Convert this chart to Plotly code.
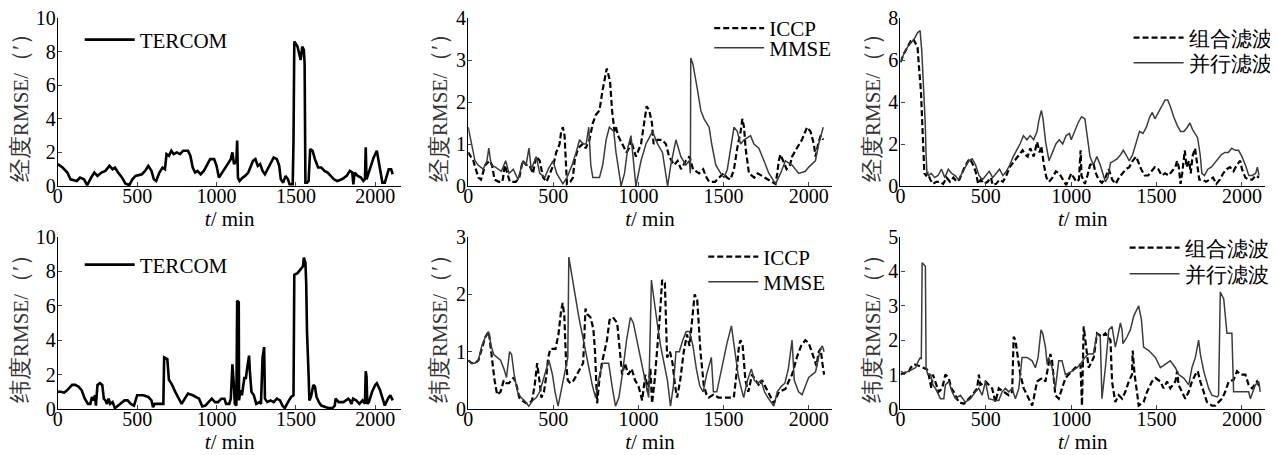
# RMSE curves: TERCOM / ICCP vs MMSE / combined vs parallel filtering
import plotly.graph_objects as go

# ---- top row: longitude RMSE ----
lon_tercom_t = [0, 30, 60, 80, 120, 140, 165, 185, 210, 230, 250, 275, 300, 325, 345, 360, 380, 405, 425, 450,
                470, 490, 530, 550, 570, 590, 605, 620, 640, 660, 675, 685, 700, 715, 730, 750, 770, 790, 820, 835,
                850, 865, 880, 900, 920, 940, 960, 985, 1000, 1015, 1035, 1050, 1070, 1090, 1100, 1110, 1125, 1130,
                1135, 1145, 1165, 1180, 1200, 1215, 1230, 1245, 1260, 1275, 1290, 1305, 1320, 1340, 1360, 1380, 1395,
                1405, 1420, 1435, 1450, 1460, 1480, 1485, 1490, 1510, 1520, 1530, 1540, 1550, 1555, 1560, 1570, 1580,
                1590, 1605, 1620, 1640, 1660, 1680, 1700, 1720, 1740, 1760, 1790, 1820, 1840, 1855, 1862, 1870, 1890,
                1910, 1925, 1935, 1940, 1945, 1955, 1970, 1990, 2010, 2025, 2040, 2045, 2060, 2070, 2085, 2100, 2110]
lon_tercom_v = [1.3, 1.1, 0.8, 0.4, 0.3, 0.5, 0.4, 0.05, 0.5, 0.8, 0.6, 0.8, 0.9, 1.2, 1.0, 1.1, 0.8, 0.5, 0.15, 0.05,
                0.4, 0.6, 0.7, 0.9, 1.2, 0.9, 0.4, 0.3, 0.8, 1.1, 1.0, 1.9, 1.8, 2.1, 1.9, 2.0, 1.9, 2.1, 2.1, 1.8,
                1.1, 0.8, 0.9, 0.7, 0.9, 1.3, 1.6, 1.6, 1.2, 0.5, 0.8, 1.0, 1.3, 1.6, 2.0, 1.3, 1.5, 2.7,
                0.5, 0.3, 0.5, 0.6, 0.8, 1.2, 1.5, 1.6, 1.2, 1.3, 0.9, 0.7, 1.0, 1.4, 1.7, 1.6, 1.2,
                0.4, 0.2, 0.6, 0.4, 0.1, 0.1, 2.7, 8.6, 8.3, 7.8, 7.5, 8.3, 8.1, 7.3, 0.2, 0.2, 0.3,
                2.2, 2.1, 1.6, 1.1, 1.1, 0.9, 0.8, 0.6, 0.4, 0.3, 0.4, 0.6, 0.9, 0.8, 0.1, 0.8, 0.6,
                0.5, 0.3, 0.4, 2.3, 0.4, 0.7, 1.2, 1.7, 2.1, 1.3, 0.6, 0.2, 0.2, 0.5, 1.0, 1.0, 0.7]

lon_iccp_t = [0, 30, 60, 75, 100, 127, 140, 155, 180, 200, 205, 215, 230, 245, 280, 300, 320, 340, 360, 380, 400,
              420, 440, 460, 480, 500, 517, 537, 546, 556, 566, 572, 580, 600, 615, 625, 645, 673, 690, 712, 732,
              751, 771, 790, 806, 814, 833, 845, 859, 868, 880, 907, 930, 945, 956, 970, 985, 1015, 1034, 1048,
              1063, 1079, 1089, 1112, 1140, 1161, 1180, 1210, 1230, 1250, 1278, 1300, 1320, 1356, 1380, 1400,
              1415, 1450, 1473, 1500, 1520, 1540, 1561, 1580, 1600, 1610, 1620, 1629, 1649, 1680, 1700, 1720,
              1740, 1780, 1805, 1815, 1824, 1834, 1850, 1870, 1890, 1902, 1930, 1960, 1990, 2010, 2030, 2040,
              2055, 2070, 2085]
lon_iccp_v = [0.8, 0.6, 0.2, 0.15, 0.5, 0.6, 0.5, 0.15, 0.1, 0.1, 0.2, 0.5, 0.3, 0.1, 0.1, 0.2, 0.6, 0.5, 0.5, 0.3, 0.7,
              0.6, 0.2, 0.1, 0.3, 0.5, 0.8, 1.0, 1.3, 1.4, 1.2, 0.5, 0.05, 0.1, 0.2, 0.6, 0.9, 1.0, 0.9, 1.1, 1.5,
              1.7, 1.8, 2.3, 2.7, 2.8, 2.5, 1.8, 1.3, 1.4, 1.2, 1.0, 0.8, 0.9, 1.1, 0.9, 0.7, 1.0, 1.5, 1.9,
              1.8, 1.5, 1.0, 1.1, 1.1, 1.0, 0.7, 0.5, 0.6, 0.4, 0.6, 0.7, 0.4, 0.3, 0.4, 0.2,
              0.1, 0.1, 0.2, 0.3, 0.2, 0.15, 0.4, 0.9, 1.3, 1.6, 1.4, 0.9, 0.3, 0.2, 0.3, 0.25,
              0.2, 0.1, 0.05, 0.3, 0.6, 0.75, 0.6, 0.4, 0.5, 0.7, 0.9, 1.1, 1.4, 1.3, 1.0, 0.7,
              1.0, 1.2, 1.1]

lon_mmse_t = [0, 15, 40, 58, 88, 110, 121, 135, 160, 195, 210, 220, 240, 265, 293, 322, 340, 357, 370, 400, 420, 450,
              470, 498, 520, 545, 556, 580, 610, 634, 654, 675, 693, 708, 720, 732, 771, 790, 810, 829, 855, 868,
              885, 898, 918, 937, 956, 970, 985, 1015, 1044, 1083, 1112, 1141, 1160, 1171, 1190, 1220, 1249, 1278,
              1298, 1305, 1307, 1320, 1346, 1366, 1385, 1415, 1430, 1454, 1483, 1502, 1522, 1541, 1561, 1580, 1600,
              1620, 1658, 1678, 1707, 1737, 1766, 1805, 1834, 1863, 1902, 1941, 1980, 2000, 2039, 2058, 2085]
lon_mmse_v = [1.4, 1.1, 0.6, 0.5, 0.4, 0.6, 0.9, 0.5, 0.45, 0.35, 0.5, 0.6, 0.3, 0.4, 0.15, 0.6, 0.5, 0.9, 0.4, 0.7, 0.3, 0.2,
              0.4, 0.6, 0.3, 0.1, 0.05, 0.2, 0.5, 0.8, 1.1, 1.0, 1.0, 1.4, 0.5, 0.2, 0.2, 0.5, 1.1, 1.4, 1.3, 0.8,
              0.3, 0.0, 0.3, 0.9, 1.2, 0.6, 0.0, 0.6, 1.0, 1.3, 1.0, 0.8, 0.3, 0.0, 0.5, 1.1, 0.7, 0.5,
              0.6, 0.3, 3.05, 2.9, 2.3, 1.8, 1.6, 1.4, 1.0, 0.5, 0.3, 0.2, 0.4, 0.9, 1.4, 1.3, 1.0,
              1.1, 1.2, 1.0, 0.9, 0.6, 0.3, 0.05, 0.3, 0.6, 0.5, 0.3, 0.35, 0.45, 0.6, 1.0, 1.4]

lon_comb_t = [0, 20, 40, 60, 75, 90, 100, 110, 120, 130, 135, 140, 150, 160, 175, 190, 210, 230, 250, 270, 290, 310,
              330, 345, 360, 375, 390, 405, 420, 440, 455, 470, 490, 510, 530, 540, 560, 580, 600, 620, 640, 660,
              680, 700, 715, 730, 745, 760, 780, 800, 815, 825, 840, 855, 870, 890, 910, 930, 950, 970, 990, 1000,
              1015, 1030, 1045, 1055, 1060, 1070, 1080, 1095, 1110, 1130, 1140, 1160, 1180, 1200, 1220, 1240, 1260,
              1280, 1300, 1320, 1340, 1360, 1380, 1390, 1410, 1430, 1450, 1470, 1490, 1510, 1530, 1550, 1570, 1590,
              1610, 1620, 1630, 1640, 1650, 1665, 1675, 1690, 1700, 1710, 1725, 1735, 1750, 1770, 1790, 1810, 1830,
              1850, 1870, 1890, 1910, 1930, 1950, 1970, 1990, 2000, 2020, 2040, 2060, 2080, 2100]
lon_comb_v = [5.9, 6.3, 6.6, 6.9, 7.0, 6.8, 6.6, 5.5, 4.5, 2.5, 1.0, 0.6, 0.5, 0.6, 0.3, 0.1, 0.2, 0.2, 0.1, 0.4, 0.2, 0.4,
              0.2, 0.3, 0.6, 0.9, 1.1, 1.3, 1.1, 0.7, 0.1, 0.3, 0.1, 0.2, 0.4, 0.05, 0.1, 0.3, 0.2, 0.5, 0.9, 1.1,
              1.3, 1.5, 1.7, 1.5, 1.4, 1.8, 1.4, 2.1, 1.6, 1.9, 1.0, 0.4, 0.2, 0.4, 0.7, 0.6, 0.3, 0.05, 0.4, 0.6,
              0.4, 0.2, 0.3, 1.7, 0.5, 0.3, 0.1, 0.5, 1.0, 1.1, 0.7, 0.3, 0.15, 0.4, 0.8, 0.3, 0.1,
              0.4, 0.6, 0.8, 0.9, 1.2, 1.4, 1.2, 0.8, 0.5, 0.5, 0.7, 0.9, 0.8, 0.5, 0.6, 0.5, 0.7,
              0.9, 1.2, 0.9, 0.1, 0.6, 1.7, 0.9, 1.2, 0.6, 1.4, 1.8, 1.2, 0.3, 0.3, 0.2, 0.3, 0.4,
              0.1, 0.3, 0.6, 0.8, 0.9, 0.7, 1.0, 1.2, 0.8, 0.4, 0.3, 0.3, 0.5, 0.4]

lon_par_t = [0, 20, 40, 60, 80, 100, 115, 125, 135, 145, 150, 155, 165, 180, 200, 220, 240, 260, 280, 300, 320, 340,
             360, 380, 400, 420, 440, 460, 480, 500, 520, 540, 560, 580, 600, 620, 640, 660, 680, 700, 720, 740, 760,
             780, 800, 810, 825, 835, 850, 870, 890, 910, 930, 950, 970, 990, 1000, 1020, 1040, 1060, 1080, 1090,
             1110, 1130, 1150, 1170, 1190, 1200, 1215, 1230, 1250, 1270, 1290, 1305, 1320, 1340, 1360, 1380, 1400,
             1420, 1440, 1460, 1475, 1490, 1510, 1530, 1550, 1565, 1580, 1600, 1620, 1640, 1660, 1680, 1695, 1710,
             1725, 1740, 1755, 1765, 1780, 1800, 1820, 1840, 1860, 1880, 1900, 1920, 1940, 1960, 1980, 2000, 2020,
             2040, 2060, 2080, 2090, 2100]
lon_par_v = [5.9, 6.3, 6.6, 6.8, 7.0, 7.3, 7.4, 6.4, 5.0, 3.0, 1.5, 0.6, 0.5, 0.6, 0.4, 0.5, 0.8, 0.4, 0.8, 0.6, 0.5, 0.3,
             0.6, 0.9, 1.2, 1.3, 1.0, 0.5, 0.3, 0.5, 0.7, 0.4, 0.6, 0.8, 0.5, 0.7, 1.0, 1.4, 1.7, 2.0, 2.4, 2.2, 2.4,
             2.2, 2.6, 3.1, 3.6, 3.2, 2.1, 1.2, 1.6, 2.0, 2.2, 2.0, 2.4, 2.5, 2.2, 2.6, 3.0, 3.3, 3.2, 2.6,
             1.4, 1.0, 1.4, 1.0, 0.4, 0.2, 0.4, 1.1, 1.2, 1.3, 1.5, 1.7, 1.5, 1.2, 1.5, 2.1, 2.6,
             2.5, 2.8, 3.3, 3.5, 3.2, 3.5, 3.8, 4.1, 4.1, 3.8, 3.3, 2.9, 2.6, 2.6, 2.8, 3.0, 2.7,
             2.5, 2.3, 1.5, 0.6, 0.5, 0.8, 0.9, 1.1, 1.3, 1.5, 1.6, 1.6, 1.8, 1.7, 1.7, 1.4, 1.0,
             0.5, 0.5, 0.6, 0.9, 0.5]

# ---- bottom row: latitude RMSE ----
lat_tercom_t = [0, 20, 40, 60, 90, 110, 130, 150, 170, 190, 205, 215, 225, 235, 240, 250, 265, 280, 290, 300, 310, 320,
                330, 345, 360, 380, 400, 420, 440, 460, 480, 500, 540, 570, 590, 600, 610, 640, 665, 670, 690, 700,
                720, 740, 760, 780, 800, 820, 850, 870, 890, 910, 930, 950, 970, 990, 1010, 1030, 1050, 1060, 1080,
                1090, 1100, 1110, 1115, 1125, 1130, 1140, 1142, 1150, 1160, 1175, 1185, 1195, 1205, 1210, 1220, 1235,
                1250, 1270, 1280, 1290, 1300, 1305, 1320, 1340, 1360, 1380, 1400, 1415, 1430, 1450, 1470, 1485, 1490,
                1510, 1530, 1545, 1550, 1560, 1565, 1570, 1580, 1585, 1595, 1610, 1620, 1630, 1645, 1660, 1690, 1710,
                1730, 1745, 1750, 1770, 1800, 1830, 1840, 1850, 1860, 1880, 1900, 1920, 1935, 1940, 1945, 1950, 1960,
                1980, 2000, 2010, 2030, 2050, 2060, 2080, 2095, 2110]
lat_tercom_v = [1.0, 1.0, 0.95, 1.1, 1.4, 1.4, 1.3, 1.1, 0.6, 0.3, 0.3, 0.7, 0.5, 0.8, 0.2, 1.4, 1.5, 1.4, 0.6, 0.5, 0.3, 0.6,
                0.3, 0.4, 0.05, 0.2, 0.4, 0.5, 0.5, 0.3, 0.2, 0.8, 0.8, 0.7, 0.5, 0.1, 0.3, 0.3, 0.3, 3.0, 2.9, 1.7,
                1.4, 1.0, 0.6, 0.3, 0.6, 0.9, 0.8, 0.7, 0.6, 0.15, 0.2, 0.4, 0.6, 0.4, 0.4, 0.6, 0.6, 0.3, 0.3,
                0.6, 2.6, 1.3, 0.3, 0.2, 6.3, 6.2, 0.5, 1.1, 0.8, 1.8, 1.8, 2.5, 3.1, 2.2, 1.0, 0.8,
                0.3, 0.4, 0.3, 3.0, 3.6, 0.6, 0.4, 0.5, 0.4, 0.6, 0.5, 0.2, 0.05, 0.4, 0.7, 0.8, 7.8,
                7.9, 8.1, 8.3, 8.8, 8.5, 7.3, 4.5, 2.0, 0.5, 0.7, 1.4, 1.3, 0.7, 0.4, 0.2, 0.1, 0.05,
                0.05, 0.2, 0.6, 0.4, 0.4, 0.6, 0.5, 0.3, 0.6, 0.5, 0.3, 0.5, 0.3, 2.2, 1.9, 0.3, 0.4,
                1.0, 1.4, 1.5, 1.1, 0.5, 0.2, 0.6, 0.8, 0.5]

lat_iccp_t = [0, 20, 40, 60, 80, 100, 121, 140, 155, 170, 190, 209, 225, 239, 255, 268, 285, 300, 317, 340, 360, 375,
              390, 405, 418, 430, 445, 460, 470, 483, 513, 530, 545, 555, 565, 575, 585, 600, 620, 640, 660, 675,
              689, 700, 718, 735, 745, 757, 770, 785, 800, 815, 830, 850, 875, 890, 904, 920, 940, 960, 980, 1000,
              1022, 1040, 1055, 1070, 1080, 1095, 1110, 1125, 1139, 1155, 1168, 1185, 1200, 1215, 1227, 1245, 1266,
              1285, 1300, 1315, 1330, 1345, 1364, 1384, 1400, 1413, 1440, 1470, 1500, 1530, 1560, 1575, 1590, 1599,
              1612, 1628, 1645, 1667, 1690, 1710, 1726, 1760, 1795, 1825, 1863, 1885, 1902, 1930, 1955, 1980, 2000,
              2029, 2045, 2059, 2070, 2080, 2090]
lat_iccp_v = [0.85, 0.8, 0.8, 0.85, 1.05, 1.25, 1.35, 0.9, 0.5, 0.25, 0.3, 0.5, 0.45, 0.45, 0.5, 0.55, 0.4, 0.2, 0.15, 0.1, 0.1, 0.15,
              0.4, 0.8, 0.5, 0.2, 0.3, 0.6, 0.9, 1.05, 1.05, 1.3, 1.7, 1.85, 1.6, 0.8, 0.5, 0.45, 0.5, 0.6, 0.7, 0.8,
              1.75, 1.65, 1.6, 1.4, 1.0, 0.1, 0.5, 0.8, 1.0, 1.2, 1.55, 1.6, 1.5, 1.0, 0.6, 0.8, 0.6, 0.7, 0.5, 0.4,
              0.15, 0.6, 0.3, 0.7, 0.1, 0.5, 1.0, 1.6, 2.25, 2.2, 0.9, 1.0, 0.8, 0.4, 0.2, 0.5, 1.0,
              1.3, 1.1, 1.6, 2.0, 1.9, 1.0, 0.4, 0.25, 0.2, 0.25, 0.2, 0.2, 0.2, 0.2, 0.6, 1.1, 1.2,
              1.1, 0.5, 0.3, 0.6, 0.5, 0.4, 0.5, 0.3, 0.1, 0.3, 0.35, 0.5, 0.6, 0.9, 1.1, 1.2, 1.15,
              0.9, 0.75, 1.0, 1.05, 0.8, 0.6]

lat_mmse_t = [0, 20, 40, 60, 80, 100, 120, 135, 150, 170, 190, 210, 225, 243, 255, 270, 290, 310, 330, 356, 380, 400,
              420, 440, 460, 474, 495, 510, 528, 545, 565, 585, 591, 610, 630, 650, 670, 690, 710, 730, 748, 765, 790,
              825, 845, 865, 885, 905, 930, 953, 970, 990, 1010, 1030, 1050, 1060, 1076, 1090, 1110, 1130, 1150, 1170,
              1188, 1205, 1220, 1240, 1260, 1280, 1300, 1320, 1340, 1360, 1380, 1400, 1428, 1440, 1460, 1480, 1500,
              1520, 1546, 1565, 1585, 1600, 1618, 1640, 1663, 1680, 1700, 1720, 1740, 1760, 1780, 1795, 1815, 1840,
              1860, 1880, 1902, 1915, 1940, 1961, 1980, 2000, 2020, 2040, 2068, 2080, 2090]
lat_mmse_v = [0.85, 0.8, 0.8, 0.85, 1.1, 1.25, 1.35, 1.1, 0.95, 0.9, 0.85, 0.7, 0.55, 1.0, 0.95, 0.6, 0.3, 0.2, 0.15, 0.05, 0.15, 0.2,
              0.3, 0.5, 0.7, 0.85, 0.6, 0.3, 0.05, 0.3, 0.6, 0.9, 2.65, 2.3, 1.9, 1.6, 1.3, 1.0, 0.7, 0.4, 0.2, 0.5, 0.8,
              0.8, 0.4, 0.05, 0.2, 0.6, 1.2, 1.6, 1.5, 1.2, 0.9, 0.6, 0.3, 0.2, 2.25, 1.9, 1.5, 1.1, 0.8, 0.5,
              0.05, 0.4, 1.0, 1.0, 1.2, 1.35, 1.35, 1.1, 0.7, 0.4, 0.3, 0.6, 0.9, 0.3, 0.3, 0.6, 0.9,
              1.15, 1.45, 1.0, 0.6, 0.4, 0.2, 0.5, 0.7, 0.5, 0.45, 0.5, 0.3, 0.2, 0.1, 0.05, 0.3, 0.4,
              0.45, 0.7, 1.2, 0.5, 0.3, 0.25, 0.4, 0.55, 0.6, 0.65, 1.05, 1.1, 1.0]

lat_comb_t = [0, 25, 50, 60, 80, 110, 156, 165, 181, 190, 205, 224, 244, 263, 283, 298, 312, 341, 371, 400, 420, 449,
              459, 468, 498, 537, 556, 576, 605, 634, 654, 663, 673, 688, 702, 722, 741, 771, 780, 800, 829, 849,
              878, 888, 907, 927, 946, 966, 985, 1024, 1054, 1059, 1063, 1073, 1083, 1102, 1132, 1151, 1180, 1200,
              1230, 1239, 1258, 1278, 1298, 1317, 1337, 1356, 1360, 1371, 1385, 1395, 1424, 1444, 1473, 1493, 1522,
              1541, 1561, 1580, 1610, 1620, 1629, 1659, 1668, 1688, 1707, 1727, 1741, 1756, 1776, 1795, 1824, 1844,
              1863, 1883, 1902, 1922, 1951, 1971, 1990, 2020, 2039, 2059, 2088, 2107]
lat_comb_v = [1.0, 1.05, 1.1, 1.2, 1.3, 1.25, 1.15, 1.0, 0.6, 1.0, 0.8, 0.5, 0.6, 1.0, 0.9, 0.6, 0.5, 0.2, 0.15, 0.3, 0.4, 0.6,
              1.0, 0.7, 0.8, 0.6, 0.2, 0.6, 0.5, 0.4, 0.5, 2.1, 2.0, 1.5, 1.0, 0.6, 0.4, 0.1, 0.3, 0.8, 0.9, 0.8,
              1.6, 1.4, 0.4, 0.3, 0.6, 0.9, 1.0, 1.2, 1.3, 0.3, 0.1, 2.4, 2.0, 1.2, 1.5, 2.2, 2.1, 2.2,
              2.0, 0.8, 0.2, 0.4, 0.3, 0.5, 0.8, 1.0, 1.7, 1.0, 0.5, 0.1, 0.2, 0.5, 0.8, 0.9, 0.8,
              0.6, 0.8, 0.6, 0.8, 1.1, 0.7, 0.4, 0.3, 0.5, 0.8, 1.0, 1.1, 0.8, 0.5, 0.2, 0.1, 0.1,
              0.2, 0.3, 0.5, 0.8, 0.85, 1.1, 1.0, 1.0, 0.7, 0.6, 0.8, 0.6]

lat_par_t = [0, 20, 50, 88, 105, 117, 122, 127, 146, 150, 160, 176, 190, 205, 234, 254, 263, 283, 302, 322, 351, 380,
             410, 439, 459, 478, 498, 517, 556, 576, 595, 615, 634, 654, 673, 693, 712, 741, 771, 790, 806, 823, 833,
             849, 859, 868, 888, 907, 927, 946, 966, 1005, 1034, 1054, 1080, 1100, 1130, 1151, 1170, 1180, 1200, 1220,
             1239, 1258, 1268, 1288, 1298, 1303, 1327, 1346, 1366, 1385, 1395, 1411, 1424, 1454, 1493, 1522, 1551,
             1580, 1610, 1629, 1659, 1688, 1707, 1727, 1746, 1756, 1776, 1805, 1824, 1854, 1863, 1873, 1893, 1912,
             1941, 1951, 1990, 2039, 2049, 2078, 2098, 2107]
lat_par_v = [1.1, 1.05, 1.1, 1.2, 1.4, 1.5, 1.45, 4.25, 4.15, 1.2, 1.0, 1.0, 0.7, 0.6, 0.3, 0.3, 0.7, 0.8, 0.5, 0.3, 0.4, 0.2,
             0.3, 0.5, 0.6, 0.4, 0.8, 0.3, 0.25, 0.25, 0.5, 0.6, 0.5, 0.6, 0.3, 0.6, 1.5, 1.5, 1.4, 1.2, 1.5, 2.3, 2.2,
             1.8, 1.3, 1.5, 1.2, 0.6, 1.4, 1.4, 1.0, 1.1, 1.2, 1.3, 1.5, 1.6, 1.6, 2.2, 2.1, 0.3, 1.2, 2.3,
             2.4, 1.8, 2.0, 2.5, 2.3, 1.9, 2.1, 2.3, 2.7, 2.9, 3.0, 2.6, 1.8, 1.7, 1.5, 1.2, 1.3,
             1.4, 1.2, 1.0, 0.9, 0.7, 1.2, 1.5, 2.0, 1.6, 1.1, 0.6, 0.4, 0.35, 0.4, 3.4, 3.2, 2.2,
             2.2, 0.5, 0.5, 0.5, 0.3, 0.7, 0.8, 0.5]

x_ticks = [0, 500, 1000, 1500, 2000]

FONT = "Liberation Serif"
thick = dict(color="black", width=2.6)
dashed = dict(color="black", width=2.2, dash="6px,3px")
grey = dict(color="#3c3c3c", width=1.5)

# page body has an 8px margin, so the figure is 8px smaller than the window
W, H = 1270, 447

fig = go.Figure()
leg_count = [0]


def add_line(n, t, v, name, style):
    leg_count[0] += 1
    k = leg_count[0]
    fig.add_trace(go.Scatter(x=t, y=v, name=name, mode="lines", line=style, showlegend=True,
                             xaxis="x%d" % n, yaxis="y%d" % n,
                             legend="legend" if k == 1 else "legend%d" % k))


add_line(1, lon_tercom_t, lon_tercom_v, "TERCOM", thick)
add_line(2, lon_iccp_t, lon_iccp_v, "ICCP", dashed)
add_line(2, lon_mmse_t, lon_mmse_v, "MMSE", grey)
add_line(3, lon_comb_t, lon_comb_v, "组合滤波", dashed)
add_line(3, lon_par_t, lon_par_v, "并行滤波", grey)
add_line(4, lat_tercom_t, lat_tercom_v, "TERCOM", thick)
add_line(5, lat_iccp_t, lat_iccp_v, "ICCP", dashed)
add_line(5, lat_mmse_t, lat_mmse_v, "MMSE", grey)
add_line(6, lat_comb_t, lat_comb_v, "组合滤波", dashed)
add_line(6, lat_par_t, lat_par_v, "并行滤波", grey)

# panel geometry, in page pixels
xpix = [(58, 403), (470, 835), (904, 1270)]
ypix = [(18, 186), (237, 409)]
xdom = [[(a - 8) / W, (b - 8) / W] for a, b in xpix]
ydom = [[1 - (b - 8) / H, 1 - (a - 8) / H] for a, b in ypix]
xmax = [2165, 2135, 2135]
ymax = [10, 4, 8, 10, 3, 5]
ystep = [2, 1, 2, 2, 1, 1]
big = "<span style='font-size:23px'>%s</span>"
ytitle = [big % "经度" + "RMSE/" + big % "（′）", big % "纬度" + "RMSE/" + big % "（′）"]

layout = dict(width=W, height=H, margin=dict(l=0, r=0, t=0, b=0), showlegend=True,
              plot_bgcolor="white", paper_bgcolor="white",
              font=dict(family=FONT, size=20, color="black"))
for i in range(6):
    n = i + 1
    row, col = divmod(i, 3)
    sfx = "" if n == 1 else str(n)
    layout["xaxis" + sfx] = dict(
        domain=xdom[col], anchor="y" + sfx, range=[0, xmax[col]], tickvals=x_ticks,
        showline=True, linecolor="black", linewidth=1.2, ticks="inside", ticklen=4,
        showgrid=False, zeroline=False, automargin=False, ticklabelstandoff=-8,
        ticklabeloverflow="allow",
        tickfont=dict(family=FONT, size=20, color="black"),
        title=dict(text="<i>t</i>/ min", standoff=0, font=dict(family=FONT, size=21, color="black")))
    layout["yaxis" + sfx] = dict(
        domain=ydom[row], anchor="x" + sfx, range=[0, ymax[i]], dtick=ystep[i],
        showline=True, linecolor="black", linewidth=1.2, ticks="inside", ticklen=4,
        showgrid=False, zeroline=False, automargin=False, ticklabelstandoff=-3,
        ticklabeloverflow="allow",
        tickfont=dict(family=FONT, size=20, color="black"),
        title=dict(text=ytitle[row], standoff=2, font=dict(family=FONT, size=21, color="#333")))

# one legend per entry: (left x of line sample, vertical centre), page pixels;
# a centre of None pins the entry to the top edge of the page
leg_pix = [(80, 40), (712, None), (712, 48), (1133, 38), (1133, 63),
           (80, 265), (706, 257), (706, 282), (1129, 248), (1129, 274)]
for i, (px, py) in enumerate(leg_pix):
    key = "legend" if i == 0 else "legend%d" % (i + 1)
    if py is None:
        ly, anc = 1.0, "top"
    else:
        ly, anc = 1 - (py - 8) / H, "middle"
    layout[key] = dict(x=(px - 8) / W, y=ly, xanchor="left", yanchor=anc,
                       bgcolor="rgba(0,0,0,0)", font=dict(family=FONT, size=21, color="black"),
                       itemwidth=50)

fig.update_layout(**layout)
fig.write_html("out.html")
